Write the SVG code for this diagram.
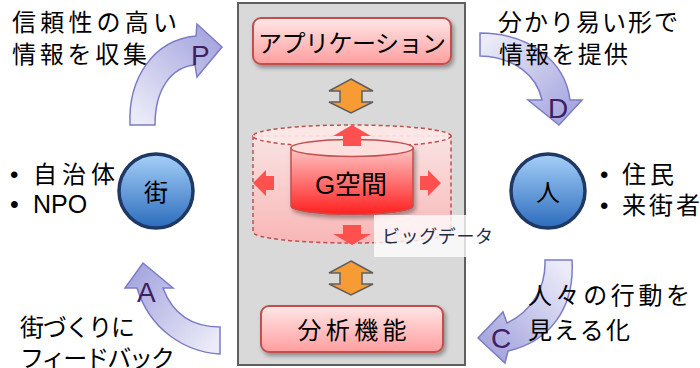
<svg xmlns="http://www.w3.org/2000/svg" width="700" height="368" viewBox="0 0 700 368">
<defs>
<style>
.jp{font-family:"Noto Sans CJK JP","Liberation Sans",sans-serif;fill:#000;font-size:24px;}
.lat{font-family:"Liberation Sans","Noto Sans CJK JP",sans-serif;fill:#000;}
.letter{font-family:"Liberation Sans",sans-serif;font-size:28px;fill:#3f1f5f;}
.pdca{stroke:#7c7cc6;stroke-width:1.5;stroke-linejoin:miter;}
.box{stroke:#c0504d;stroke-width:2;fill:url(#boxG);filter:url(#sh);}
.dbl{fill:#f79b34;stroke:#5f5f5f;stroke-width:1.5;stroke-linejoin:miter;}
.red{fill:#ff5050;}
.circ{fill:url(#circG);stroke:#1f3864;stroke-width:3.5;}
</style>
<filter id="sh" x="-20%" y="-20%" width="140%" height="150%">
<feDropShadow dx="2" dy="3" stdDeviation="2" flood-color="#000" flood-opacity="0.35"/>
</filter>
<linearGradient id="boxG" x1="0" y1="0" x2="0" y2="1">
<stop offset="0" stop-color="#ffe6e6"/><stop offset="1" stop-color="#ff9e9e"/>
</linearGradient>
<linearGradient id="outerG" x1="0" y1="0" x2="0" y2="1">
<stop offset="0" stop-color="#ffe4e4"/><stop offset="1" stop-color="#ffb0b0"/>
</linearGradient>
<linearGradient id="innerG" x1="0" y1="0" x2="0" y2="1">
<stop offset="0" stop-color="#ffc4c4"/><stop offset="1" stop-color="#ff2020"/>
</linearGradient>
<linearGradient id="circG" x1="0" y1="0" x2="0" y2="1">
<stop offset="0" stop-color="#a6d0f8"/><stop offset="1" stop-color="#2c6cbd"/>
</linearGradient>
<linearGradient id="gP" gradientUnits="userSpaceOnUse" x1="142" y1="125" x2="215" y2="45">
<stop offset="0" stop-color="#ececf9"/><stop offset="1" stop-color="#a9a9e0"/>
</linearGradient>
<linearGradient id="gD" gradientUnits="userSpaceOnUse" x1="480" y1="45" x2="559" y2="120">
<stop offset="0" stop-color="#ececf9"/><stop offset="1" stop-color="#a9a9e0"/>
</linearGradient>
<linearGradient id="gC" gradientUnits="userSpaceOnUse" x1="558" y1="260" x2="485" y2="338">
<stop offset="0" stop-color="#ececf9"/><stop offset="1" stop-color="#a9a9e0"/>
</linearGradient>
<linearGradient id="gA" gradientUnits="userSpaceOnUse" x1="220" y1="340" x2="143" y2="270">
<stop offset="0" stop-color="#ececf9"/><stop offset="1" stop-color="#a9a9e0"/>
</linearGradient>
</defs>
<rect width="700" height="368" fill="#fff"/>

<g id="panel">
<rect x="238" y="3" width="227" height="362" fill="#d9d9d9" stroke="#5f5f5f" stroke-width="2"/>
</g>

<g id="app">
<rect class="box" x="253" y="18" width="198" height="46" rx="8"/>
<text class="jp" x="352" y="52" font-size="23" text-anchor="middle" textLength="188">アプリケーション</text>
</g>

<g id="gspace">
<path d="M253,136 L253,232 A99,11 0 0 0 451,232 L451,136 Z" fill="url(#outerG)" fill-opacity="0.85" stroke="#c0504d" stroke-width="1.5" stroke-dasharray="4 3"/>
<ellipse cx="352" cy="136" rx="99" ry="11" fill="#ffe8e8" fill-opacity="0.9" stroke="#c0504d" stroke-width="1.5" stroke-dasharray="4 3"/>
<g filter="url(#sh)">
<path d="M291,148 L291,206 A61,8.5 0 0 0 413,206 L413,148 Z" fill="url(#innerG)" stroke="#c0504d" stroke-width="1.5"/>
<ellipse cx="352" cy="148" rx="61" ry="8.5" fill="#ffdede" stroke="#c0504d" stroke-width="1.5"/>
</g>
<text class="lat" x="351" y="194" font-size="26" text-anchor="middle">G空間</text>
<path class="red" d="M352,125 L371,136 L361,136 L361,146 L343,146 L343,136 L333,136 Z"/>
<path class="red" d="M253,183 L266,170 L266,176 L274,176 L274,190 L266,190 L266,196 Z"/>
<path class="red" d="M441,183 L428,170 L428,176 L420,176 L420,190 L428,190 L428,196 Z"/>
<path class="red" d="M352,245 L371,234 L361,234 L361,225 L343,225 L343,234 L333,234 Z"/>
</g>

<g id="bigdata">
<rect x="374" y="215" width="126" height="42" fill="#fff" fill-opacity="0.78"/>
<text x="382" y="243" font-family="'Noto Sans CJK JP','Liberation Sans',sans-serif" font-size="18" fill="#1f2d4d" textLength="111">ビッグデータ</text>
</g>

<g id="analysis">
<rect class="box" x="261" y="306" width="182" height="46" rx="8"/>
<text class="jp" x="352" y="339" text-anchor="middle" textLength="109">分析機能</text>
</g>

<g id="connectors">
<path class="dbl" d="M351,79 L373,91 L362,91 L362,102 L373,102 L351,113 L329,102 L340,102 L340,91 L329,91 Z"/>
<path class="dbl" d="M351,261 L373,273 L362,273 L362,284 L373,284 L351,295 L329,284 L340,284 L340,273 L329,273 Z"/>
<path class="pdca" fill="url(#gP)" d="M130,125 C128,80 152,40 196,36 L197,24 L222,47 L197,77 L195,65 C172,67 155,88 155,125 Z"/>
<path class="pdca" fill="url(#gD)" d="M480,33 C528,33 565,60 570,100 L582,100 L559,125 L528,100 L542,100 C537,76 515,57 480,56 Z"/>
<path class="pdca" fill="url(#gC)" d="M545,260 L572,260 C575,310 548,342 508,351 L505,363 L478,338 L503,312 L507,323 C530,312 546,290 545,260 Z"/>
<path class="pdca" fill="url(#gA)" d="M220,354 C185,352 150,330 137,288 L125,288 L143,263 L173,288 L163,288 C172,312 190,327 220,327 Z"/>
<text class="letter" x="191" y="65">P</text>
<text class="letter" x="548" y="118">D</text>
<text class="letter" x="491" y="348">C</text>
<text class="letter" x="137" y="302">A</text>
</g>

<g id="machi">
<circle class="circ" cx="156" cy="191" r="37"/>
<text class="jp" x="156" y="201" font-size="27" text-anchor="middle">街</text>
</g>

<g id="hito">
<circle class="circ" cx="548" cy="191" r="37"/>
<text class="jp" x="548" y="201" font-size="27" text-anchor="middle">人</text>
</g>

<g id="labels">
<text class="jp" x="12" y="31" textLength="165">信頼性の高い</text>
<text class="jp" x="12" y="63" textLength="135">情報を収集</text>
<text class="jp" y="183"><tspan class="lat" x="10">•</tspan><tspan x="33" textLength="82">自治体</tspan></text>
<text class="lat" font-size="25" y="213"><tspan x="10">•</tspan><tspan x="33">NPO</tspan></text>
<text class="jp" x="498" y="31" textLength="180">分かり易い形で</text>
<text class="jp" x="499" y="63" textLength="129">情報を提供</text>
<text class="jp" y="183"><tspan class="lat" x="600">•</tspan><tspan x="622" textLength="52">住民</tspan></text>
<text class="jp" y="214"><tspan class="lat" x="600">•</tspan><tspan x="622" textLength="78">来街者</tspan></text>
<text class="jp" x="528" y="304" textLength="162">人々の行動を</text>
<text class="jp" x="528" y="339" textLength="102">見える化</text>
<text class="jp" x="20" y="336" font-size="23" textLength="115">街づくりに</text>
<text class="jp" x="20" y="367" font-size="23" textLength="155">フィードバック</text>
</g>
</svg>
